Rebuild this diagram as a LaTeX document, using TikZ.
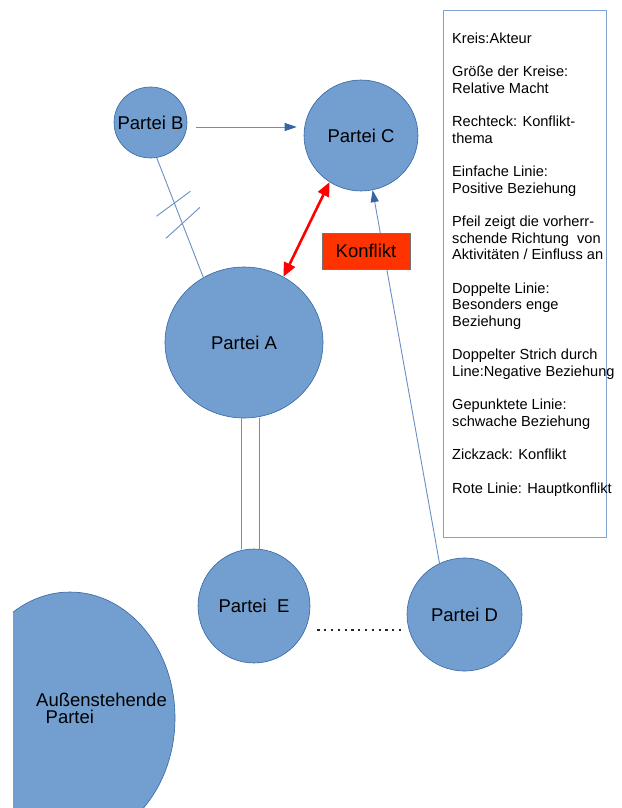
\documentclass[tikz,border=0pt]{standalone}
\usepackage{fontspec}
\setmainfont{Liberation Sans}
\usetikzlibrary{arrows.meta,shapes.geometric,calc}
\definecolor{cfill}{HTML}{729FCF}
\definecolor{cline}{HTML}{3465A4}
\definecolor{lline}{HTML}{6A8FC2}
\definecolor{kred}{HTML}{FF3300}
\definecolor{legbox}{HTML}{7FA3D0}
\begin{document}
\begin{tikzpicture}[x=1pt,y=-1pt,
  party/.style={ellipse, fill=cfill, draw=cline, line width=0.6pt, inner sep=0pt,
                font=\fontsize{18.5}{22}\selectfont},
  rel/.style={draw=lline, line width=0.9pt},
  arr/.style={rel, -{Triangle[length=12pt,width=8pt,color=cline]}},
  redarr/.style={draw=red, line width=2.6pt,
                 {Triangle[length=14pt,width=12pt]}-{Triangle[length=14pt,width=12pt]}},
  dotline/.style={draw=black!85, line width=2.2pt, dash pattern=on 2.2pt off 4.6pt},
  legtext/.style={anchor=base west, inner sep=0pt, font=\fontsize{14.6}{16}\selectfont},
  outtext/.style={anchor=base west, inner sep=0pt, font=\fontsize{18.5}{22}\selectfont}]
\useasboundingbox (0,0) rectangle (621,808);

% outside party (clipped)
\begin{scope}
  \clip (13,0) rectangle (621,808);
  \node[party, minimum width=210pt, minimum height=252pt] (out) at (70,718) {};
\end{scope}
\node[outtext] (outl1) at (36,706) {Außenstehende};
\node[outtext] (outl2) at (45.5,723) {Partei};

% parties
\node[party, minimum width=73pt,  minimum height=71pt]  (B) at (150.5,122.5) {\makebox[0pt]{Partei B}};
\node[party, minimum width=114pt, minimum height=111pt] (C) at (361,135.5)   {\makebox[0pt]{Partei C}};
\node[party, minimum width=158pt, minimum height=151pt] (A) at (244,342.5)   {\makebox[0pt]{Partei A}};
\node[party, minimum width=112pt, minimum height=114pt] (E) at (254,606)     {\makebox[0pt]{Partei\ \ E}};
\node[party, minimum width=115pt, minimum height=113pt] (D) at (464.5,614.5) {\makebox[0pt]{Partei D}};

% connectors
\draw[arr] ([shift={(9,4.5)}]B.east) -- ([shift={(-7,-8.5)}]C.west);
\draw[rel] (B.280) -- (A.122);
\coordinate (s1) at ($(B.280)!0.38!(A.122)$);
\coordinate (s2) at ($(B.280)!0.54!(A.122)$);
\draw[rel] ([shift={(-18,13)}]s1) -- ([shift={(16,-12)}]s1);
\draw[rel] ([shift={(-16,16)}]s2) -- ([shift={(18,-15)}]s2);
\draw[arr] (D.116) -- (C.282);
\draw[redarr] (C.236) -- (A.59);
\draw[rel] ([xshift=-3pt]A.south) -- ([xshift=-3pt]A.south |- E.north);
\draw[rel] ([xshift=15pt]A.south) -- ([xshift=15pt]A.south |- E.north);
\draw[dotline] ([shift={(7,24)}]E.east) -- ([shift={(-3,15.5)}]D.west);

% conflict topic
\node[draw=black!55, line width=0.8pt, fill=kred, minimum width=88pt, minimum height=36pt,
      inner sep=0pt, font=\fontsize{18.5}{22}\selectfont] (K) at (366,251) {Konflikt};

% legend
\node[draw=legbox, line width=0.8pt, minimum width=163pt, minimum height=527pt,
      anchor=north west, inner sep=0pt] (legend) at (443,10) {};
\foreach \i/\t in {0/{Kreis:Akteur}, 2/{Größe der Kreise:}, 3/{Relative Macht},
    5/{Rechteck: Konflikt-}, 6/{thema}, 8/{Einfache Linie:}, 9/{Positive Beziehung},
    11/{Pfeil zeigt die vorherr-}, 12/{schende Richtung\ \ von}, 13/{Aktivitäten / Einfluss an},
    15/{Doppelte Linie:}, 16/{Besonders enge}, 17/{Beziehung},
    19/{Doppelter Strich durch}, 20/{Line:Negative Beziehung},
    22/{Gepunktete Linie:}, 23/{schwache Beziehung},
    25/{Zickzack: Konflikt}, 27/{Rote Linie: Hauptkonflikt}}
  \node[legtext] (leg\i) at (452,43.5+16.65*\i) {\t};
\end{tikzpicture}
\end{document}
